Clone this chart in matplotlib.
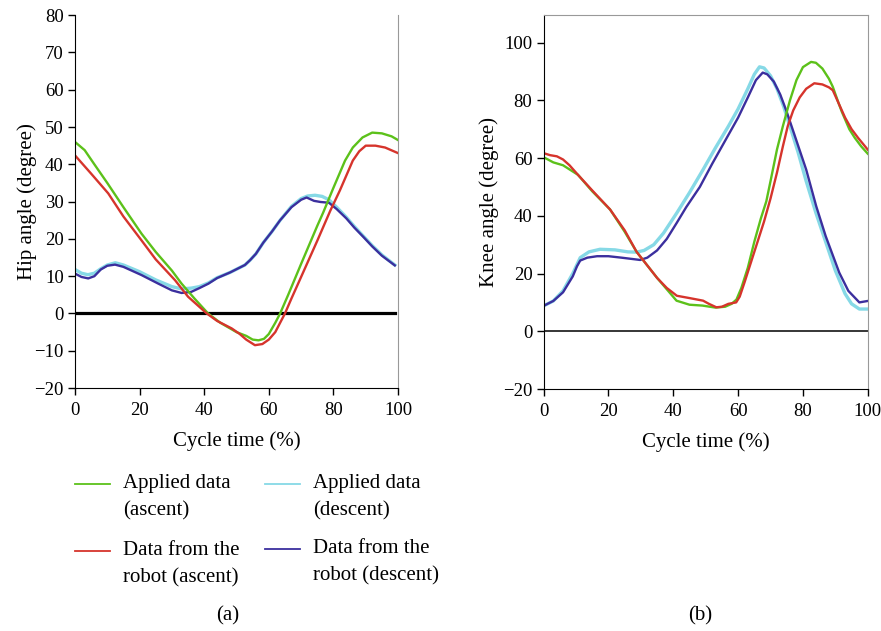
import matplotlib
matplotlib.use("Agg")
import matplotlib.pyplot as plt
from matplotlib.lines import Line2D
from matplotlib.ticker import FuncFormatter

plt.rcParams['font.family'] = ['Liberation Serif', 'DejaVu Serif']
plt.rcParams['font.size'] = 15

# ---- hip angle (panel a) ----
hip_asc_app_x = [0, 3, 6, 10, 15, 20.6, 25, 30, 33, 37, 41.2, 45, 50, 53, 55, 56.8, 58.5, 60, 62, 63.5, 66, 70, 75, 76.8, 80, 83.6, 86, 89, 92, 95, 98, 100]
hip_asc_app_y = [46, 43.8, 40, 35, 28.5, 21.4, 16.5, 11.5, 8, 4, 0, -2.5, -5, -6, -7, -7.2, -6.8, -5.5, -2.5, 0, 5, 13.3, 23.5, 27, 33.7, 41, 44.5, 47.2, 48.5, 48.3, 47.5, 46.5]

hip_asc_rob_x = [0, 5, 10.3, 15, 20.6, 25, 31, 35, 40.8, 44, 48.5, 51, 53, 55.7, 58, 60, 62, 63.5, 65, 67, 70, 75, 79, 82, 86, 88, 90, 93, 96, 100]
hip_asc_rob_y = [42.4, 37.5, 32.2, 26, 19.6, 14.5, 8.9, 4.5, 0, -2, -4, -5.5, -7, -8.5, -8.2, -7, -5, -2.5, 0, 4, 9.8, 19.5, 27.5, 33, 41, 43.5, 45, 45, 44.5, 43]

hip_desc_app_x = [0, 2, 4, 6, 8, 10, 12.5, 15, 20, 25, 30, 33, 36, 38.5, 41.3, 44, 48, 52.6, 54.2, 56, 58.3, 61, 63.5, 67, 70, 72, 74.3, 76.5, 78.6, 81, 84, 86.5, 89.3, 92, 95, 99]
hip_desc_app_y = [11.8, 10.8, 10.4, 10.8, 12, 13, 13.6, 13, 11.2, 9, 7.2, 6.6, 6.8, 7.2, 8.2, 9.6, 11, 13, 14.3, 16, 19, 22, 25, 28.7, 30.8, 31.5, 31.7, 31.4, 30.5, 28.5, 25.8, 23.3, 20.7, 18.2, 15.7, 13]

hip_desc_rob_x = [0, 2, 4.1, 6, 8, 10, 12.4, 15, 20.6, 25.8, 30, 33, 36, 38.5, 41.3, 44, 48, 52.6, 54.2, 56, 58.3, 61, 63.5, 67, 70, 71.7, 74, 76, 78.6, 81, 84, 86.5, 89.3, 92, 95, 99]
hip_desc_rob_y = [10.7, 9.8, 9.4, 10, 11.8, 12.8, 13.1, 12.5, 10.3, 8, 6.2, 5.5, 5.8, 6.8, 8, 9.5, 11, 13, 14.3, 16, 19, 22, 25, 28.5, 30.5, 31.1, 30.2, 29.9, 29.7, 28, 25.5, 23, 20.5, 18, 15.5, 12.9]

# ---- knee angle (panel b) ----
knee_asc_app_x = [0, 3, 6, 10.6, 15, 20.5, 25, 28.7, 35, 41, 45, 49, 53, 56, 58, 59.5, 61, 63, 65, 67, 68.7, 70, 72, 73.8, 76, 78, 80, 82.5, 84, 86, 88, 89.2, 91, 92, 94.3, 96, 98, 100]
knee_asc_app_y = [60.3, 58.5, 57.5, 54.2, 48.5, 42.2, 34.5, 27.5, 18.5, 10.6, 9.2, 8.9, 8.2, 8.5, 9.5, 11, 15, 22, 31, 39, 45, 52, 63, 71, 80, 87, 91.5, 93.3, 93, 91, 87.5, 84.7, 79, 76, 70, 67, 64, 61.5]

knee_asc_rob_x = [0, 2, 4.1, 6, 8, 10.6, 15, 20.5, 25, 28.7, 35, 38, 41.1, 45, 49.2, 51, 53.3, 55, 57, 59.4, 60.5, 62, 64, 66, 68, 70, 72, 73.8, 75.3, 77, 79, 81, 83.5, 86, 88, 89.2, 91, 93, 95, 97, 100]
knee_asc_rob_y = [61.7, 61, 60.6, 59.5, 57.5, 54.2, 48.8, 42.2, 35, 27.5, 18.5, 15, 12.3, 11.5, 10.6, 9.5, 8.3, 8.5, 9.5, 10, 12, 17, 24, 31, 38, 46, 55, 64, 71, 76.5, 81, 84, 85.9, 85.5, 84.5, 83.5, 79, 74, 70, 67, 62.9]

knee_desc_app_x = [0, 3, 6, 9, 11.3, 14, 17.4, 22, 26, 28.7, 31, 34, 37, 41.1, 45, 49.2, 53, 57, 60, 63, 65, 66.6, 68, 70, 72, 74, 76, 78.5, 81, 84, 87, 90, 93, 95, 97.4, 100]
knee_desc_app_y = [8.8, 10.5, 14, 20, 25.5, 27.5, 28.4, 28.2, 27.5, 27.4, 28, 30, 34, 41, 48, 56, 63.5, 71, 77, 84, 89, 91.6, 91.2, 88.5, 84, 78, 71, 62, 52, 41, 31, 21, 13, 9.5, 7.7, 7.7]

knee_desc_rob_x = [0, 3, 6, 9, 10.3, 11.3, 13.5, 16.5, 20, 24, 29.8, 32, 35, 38, 41.1, 44, 48.2, 52, 56, 60, 63, 65.5, 67.6, 69, 71, 73, 75, 78.9, 81, 84.1, 87, 91.2, 94, 97.4, 100]
knee_desc_rob_y = [8.8, 10.5, 13.5, 19, 22.5, 24.5, 25.5, 26, 26, 25.5, 24.7, 25.5, 28, 32, 37.6, 43, 50, 58, 66, 74, 81, 87, 89.6, 89, 86.5, 82, 76, 63, 56, 43.3, 33, 20.3, 14, 10, 10.5]

GREEN = '#5cc11a'
RED = '#d6342c'
CYAN = '#86d9e6'
BLUE = '#3b2f9e'
labels = ['Applied data\n(ascent)', 'Data from the\nrobot (ascent)',
          'Applied data\n(descent)', 'Data from the\nrobot (descent)']

fig = plt.figure(figsize=(8.81, 6.31), dpi=100)
ax1 = fig.add_axes([0.0851, 0.385, 0.3667, 0.591])
ax2 = fig.add_axes([0.617, 0.3835, 0.368, 0.5925])

lw = 1.7
ax1.axhline(0, xmin=0, xmax=0.99, color='black', lw=2.3, zorder=1)
ax1.plot(hip_desc_app_x, hip_desc_app_y, color=CYAN, lw=lw + 0.7)
ax1.plot(hip_desc_rob_x, hip_desc_rob_y, color=BLUE, lw=lw)
ax1.plot(hip_asc_app_x, hip_asc_app_y, color=GREEN, lw=lw)
ax1.plot(hip_asc_rob_x, hip_asc_rob_y, color=RED, lw=lw)
ax1.set_ylim(-20, 80)
ax1.set_yticks(range(-20, 81, 10))
ax1.set_ylabel('Hip angle (degree)', labelpad=-2)

ax2.axhline(0, color='black', lw=1.1, zorder=1)
ax2.plot(knee_desc_app_x, knee_desc_app_y, color=CYAN, lw=lw + 0.7)
ax2.plot(knee_desc_rob_x, knee_desc_rob_y, color=BLUE, lw=lw)
ax2.plot(knee_asc_app_x, knee_asc_app_y, color=GREEN, lw=lw)
ax2.plot(knee_asc_rob_x, knee_asc_rob_y, color=RED, lw=lw)
ax2.set_ylim(-20, 109.5)
ax2.set_yticks(range(-20, 101, 20))
ax2.set_ylabel('Knee angle (degree)', labelpad=3)

for ax in (ax1, ax2):
    ax.set_xlim(0, 100)
    ax.set_xticks(range(0, 101, 20))
    ax.set_xlabel('Cycle time (%)', labelpad=9)
    ax.tick_params(direction='out', length=5, width=1, labelsize=13.5, pad=3)
    ax.tick_params(axis='x', pad=5)
    ax.yaxis.set_major_formatter(FuncFormatter(
        lambda v, p: ('\u2212%d' % -v) if v < 0 else '%d' % v))
    ax.spines['right'].set_color('#999999')
    ax.spines['top'].set_color('#999999')
ax1.spines['top'].set_visible(False)

# legend under panel (a)
colors = [GREEN, RED, CYAN, BLUE]
pos = [(75, 484), (75, 551), (265, 484), (265, 549)]
W, H = 881.0, 631.0
for (px, py), c, lab in zip(pos, colors, labels):
    fig.add_artist(Line2D([px / W, (px + 35) / W], [1 - py / H, 1 - py / H],
                          color=c, lw=1.3, transform=fig.transFigure))
    fig.text((px + 48) / W, 1 - (py - 10) / H, lab, ha='left', va='top',
             fontsize=15, linespacing=1.55)

fig.text(228 / W, 1 - 616 / H, '(a)', ha='center', va='center', fontsize=15)
fig.text(700 / W, 1 - 616 / H, '(b)', ha='center', va='center', fontsize=15)

fig.savefig('out.png', dpi=100)
